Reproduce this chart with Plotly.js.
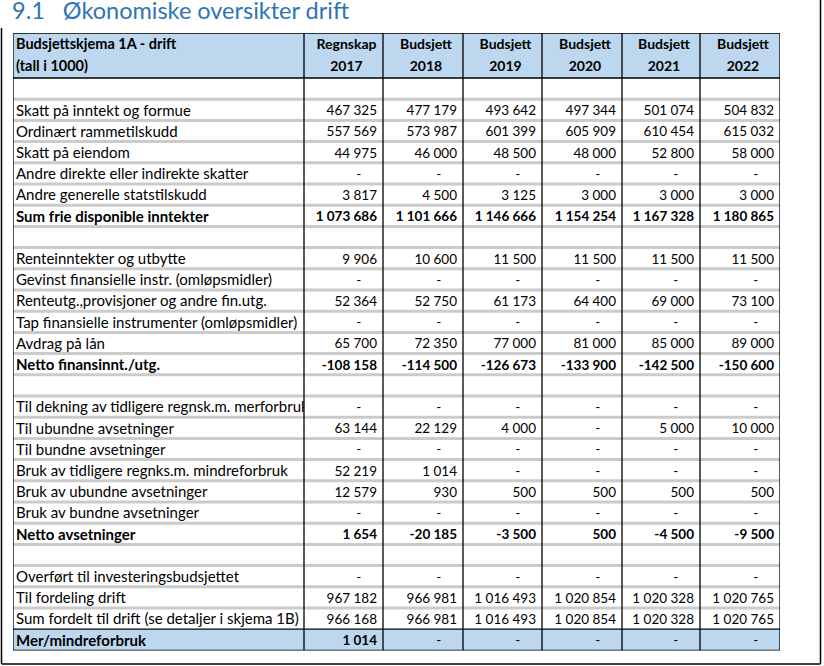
<!DOCTYPE html>
<html>
<head>
<meta charset="utf-8">
<script src="https://cdn.plot.ly/plotly-3.0.1.min.js"></script>
<style>html,body{margin:0;padding:0;background:#fff;}#chart{width:824px;height:666px;}</style>
</head>
<body>
<div id="chart"></div>
<script>
// ---------- DATA ----------
const headerLabel = ['Budsjettskjema 1A - drift', '(tall i 1000)'];
const columnHeads = [['Regnskap', '2017'], ['Budsjett', '2018'], ['Budsjett', '2019'], ['Budsjett', '2020'], ['Budsjett', '2021'], ['Budsjett', '2022']];

const rowLabels = [
  '',
  'Skatt på inntekt og formue',
  'Ordinært rammetilskudd',
  'Skatt på eiendom',
  'Andre direkte eller indirekte skatter',
  'Andre generelle statstilskudd',
  'Sum frie disponible inntekter',
  '',
  'Renteinntekter og utbytte',
  'Gevinst finansielle instr. (omløpsmidler)',
  'Renteutg.,provisjoner og andre fin.utg.',
  'Tap finansielle instrumenter (omløpsmidler)',
  'Avdrag på lån',
  'Netto finansinnt./utg.',
  '',
  'Til dekning av tidligere regnsk.m. merforbruk',
  'Til ubundne avsetninger',
  'Til bundne avsetninger',
  'Bruk av tidligere regnks.m. mindreforbruk',
  'Bruk av ubundne avsetninger',
  'Bruk av bundne avsetninger',
  'Netto avsetninger',
  '',
  'Overført til investeringsbudsjettet',
  'Til fordeling drift',
  'Sum fordelt til drift (se detaljer i skjema 1B)',
  'Mer/mindreforbruk'
];
const boldRows = [6, 13, 21, 26];

const regnskap2017 = [null, 467325, 557569, 44975, 0, 3817, 1073686, null, 9906, 0, 52364, 0, 65700, -108158, null, 0, 63144, 0, 52219, 12579, 0, 1654, null, 0, 967182, 966168, 1014];
const budsjett2018 = [null, 477179, 573987, 46000, 0, 4500, 1101666, null, 10600, 0, 52750, 0, 72350, -114500, null, 0, 22129, 0, 1014, 930, 0, -20185, null, 0, 966981, 966981, 0];
const budsjett2019 = [null, 493642, 601399, 48500, 0, 3125, 1146666, null, 11500, 0, 61173, 0, 77000, -126673, null, 0, 4000, 0, 0, 500, 0, -3500, null, 0, 1016493, 1016493, 0];
const budsjett2020 = [null, 497344, 605909, 48000, 0, 3000, 1154254, null, 11500, 0, 64400, 0, 81000, -133900, null, 0, 0, 0, 0, 500, 0, 500, null, 0, 1020854, 1020854, 0];
const budsjett2021 = [null, 501074, 610454, 52800, 0, 3000, 1167328, null, 11500, 0, 69000, 0, 85000, -142500, null, 0, 5000, 0, 0, 500, 0, -4500, null, 0, 1020328, 1020328, 0];
const budsjett2022 = [null, 504832, 615032, 58000, 0, 3000, 1180865, null, 11500, 0, 73100, 0, 89000, -150600, null, 0, 10000, 0, 0, 500, 0, -9500, null, 0, 1020765, 1020765, 0];
const valueColumns = [regnskap2017, budsjett2018, budsjett2019, budsjett2020, budsjett2021, budsjett2022];

// ---------- LAYOUT CONSTANTS ----------
const W = 824, H = 666;
const colWidths = [291, 79, 80, 79, 80, 78, 80];
const tableLeft = 13, tableTop = 33, rowPx = 21.2, headerPx = 45;
const nRows = rowLabels.length;
const headerUnits = headerPx / rowPx;
const edges = [0];
colWidths.forEach(w => edges.push(edges[edges.length - 1] + w));
const totalW = edges[edges.length - 1];
const tableBottom = tableTop + headerPx + nRows * rowPx;

const FONT = 'Lato, Carlito, Calibri, "Open Sans", sans-serif';
const TXT = '#000000';
const BLUE_FILL = '#BDD7EE';
const GRAY = '#cbcbcb';

function fmt(v) {
  if (v === null || v === undefined) return '';
  if (v === 0) return '-\u2007\u2007';
  const neg = v < 0;
  const s = Math.abs(v).toString().replace(/\B(?=(\d{3})+(?!\d))/g, '\u00a0');
  return (neg ? '-' : '') + s;
}
function b(s, i) { return boldRows.includes(i) && s !== '' ? '<b>' + s + '</b>' : s; }

const textShift = 2 / rowPx;
const rowCenters = rowLabels.map((_, i) => i + 0.5 + textShift);
const hdr1 = -headerUnits + (45.5 - tableTop) / rowPx;
const hdr2 = -headerUnits + (67.5 - tableTop) / rowPx;

const traces = [];
// label column
traces.push({
  type: 'scatter', mode: 'text', xaxis: 'x2', yaxis: 'y',
  x: rowLabels.map(() => 3), y: rowCenters,
  text: rowLabels.map((s, i) => b(s, i)),
  textposition: 'middle right',
  textfont: {family: FONT, size: 15, color: TXT},
  hoverinfo: 'skip', showlegend: false, cliponaxis: true
});
traces.push({
  type: 'scatter', mode: 'text', xaxis: 'x2', yaxis: 'y',
  x: [3, 3], y: [hdr1, hdr2],
  text: headerLabel.map(s => '<b>' + s + '</b>'),
  textposition: 'middle right',
  textfont: {family: FONT, size: 14.5, color: TXT},
  hoverinfo: 'skip', showlegend: false
});
valueColumns.forEach((col, c) => {
  const right = edges[c + 2] - 6;
  traces.push({
    type: 'scatter', mode: 'text', xaxis: 'x', yaxis: 'y',
    x: col.map(() => right), y: rowCenters,
    text: col.map((v, i) => v === 0 ? fmt(v) : b(fmt(v), i)),
    textposition: 'middle left',
    textfont: {family: FONT, size: 13.5, color: TXT},
    hoverinfo: 'skip', showlegend: false
  });
  const mid = (edges[c + 1] + edges[c + 2]) / 2 + 3;
  traces.push({
    type: 'scatter', mode: 'text', xaxis: 'x', yaxis: 'y',
    x: [mid, mid], y: [hdr1, hdr2],
    text: columnHeads[c].map(s => '<b>' + s + '</b>'),
    textposition: 'middle center',
    textfont: {family: FONT, size: 14, color: TXT},
    hoverinfo: 'skip', showlegend: false
  });
});

const shapes = [];
// fills
shapes.push({type: 'rect', xref: 'x', yref: 'y', x0: 0, x1: totalW, y0: -headerUnits, y1: 0, fillcolor: BLUE_FILL, line: {width: 0}, layer: 'below'});
shapes.push({type: 'rect', xref: 'x', yref: 'y', x0: 0, x1: totalW, y0: nRows - 1, y1: nRows, fillcolor: BLUE_FILL, line: {width: 0}, layer: 'below'});
// gray row separators
for (let k = 1; k < nRows - 1; k++) {
  shapes.push({type: 'line', xref: 'x', yref: 'y', x0: 0, x1: totalW, y0: k, y1: k, line: {color: GRAY, width: 3}, layer: 'below'});
}
// black column lines
edges.forEach(e => {
  shapes.push({type: 'line', xref: 'x', yref: 'y', x0: e, x1: e, y0: -headerUnits, y1: nRows, line: {color: '#000', width: 1.3}, layer: 'below'});
});
[-headerUnits, 0, nRows - 1, nRows].forEach(yv => {
  shapes.push({type: 'line', xref: 'x', yref: 'y', x0: 0, x1: totalW, y0: yv, y1: yv, line: {color: '#000', width: 1.3}, layer: 'below'});
});
// page frame
shapes.push({type: 'line', xref: 'paper', yref: 'paper', x0: 1.5 / W, x1: 1.5 / W, y0: 1 - 28 / H, y1: 1 - 664 / H, line: {color: '#000', width: 1.5}});
shapes.push({type: 'line', xref: 'paper', yref: 'paper', x0: 1.5 / W, x1: 820.5 / W, y0: 1 - 664 / H, y1: 1 - 664 / H, line: {color: '#000', width: 1.5}});
shapes.push({type: 'line', xref: 'paper', yref: 'paper', x0: 820.5 / W, x1: 820.5 / W, y0: 1, y1: 1 - 664 / H, line: {color: '#000', width: 1.5}});

const layout = {
  width: W, height: H,
  margin: {l: 0, r: 0, t: 0, b: 0, pad: 0},
  paper_bgcolor: '#fff', plot_bgcolor: 'rgba(0,0,0,0)',
  showlegend: false,
  title: {
    text: '9.1\u00a0\u00a0\u00a0Økonomiske oversikter drift',
    x: 12 / W, xanchor: 'left', xref: 'container',
    y: 1 - 3 / H, yanchor: 'top', yref: 'container', pad: {t: 0, l: 0, r: 0, b: 0},
    font: {family: FONT, size: 23.5, weight: 400, color: '#2E74B5'}
  },
  xaxis: {domain: [tableLeft / W, (tableLeft + totalW) / W], range: [0, totalW], visible: false, fixedrange: true},
  xaxis2: {domain: [tableLeft / W, (tableLeft + colWidths[0]) / W], range: [0, colWidths[0]], visible: false, anchor: 'y', fixedrange: true},
  yaxis: {domain: [1 - tableBottom / H, 1 - tableTop / H], range: [nRows, -headerUnits], visible: false, fixedrange: true},
  shapes: shapes
};

Plotly.newPlot('chart', traces, layout, {displayModeBar: false, staticPlot: true});
</script>
</body>
</html>
